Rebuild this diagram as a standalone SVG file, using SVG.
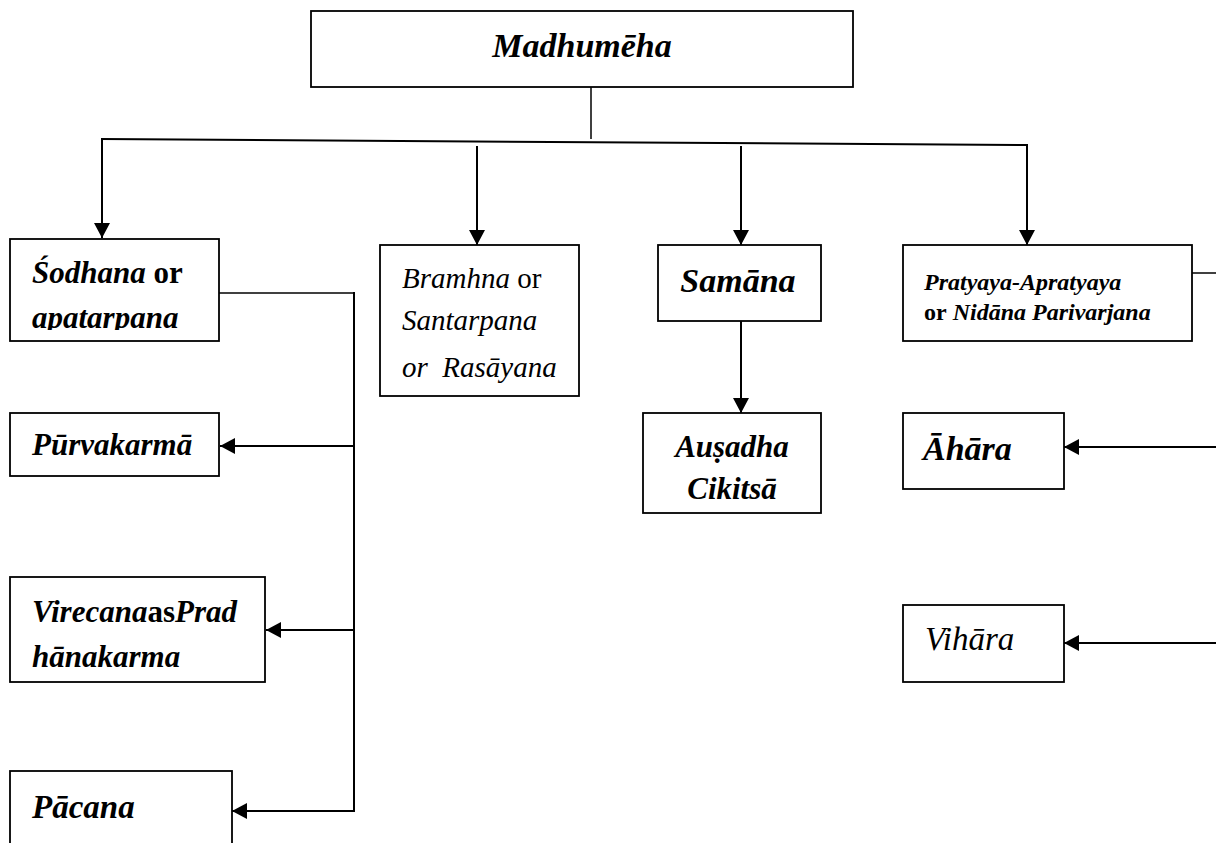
<svg xmlns="http://www.w3.org/2000/svg" width="1216" height="843" viewBox="0 0 1216 843">
<style>
.box{fill:#fff;stroke:#000;stroke-width:1.8}
.t{font-family:"Liberation Serif","Times New Roman",serif;fill:#000}
.bi{font-weight:bold;font-style:italic;font-size:31px}
.i{font-style:italic;font-size:29px}
.bu{font-weight:bold;font-style:normal}
.u{font-style:normal}
.c{stroke:#000;stroke-width:2;fill:none}
.thin{stroke:#000;stroke-width:1.5;fill:none}
</style>
<defs>
<marker id="ah" markerUnits="userSpaceOnUse" markerWidth="16" markerHeight="16" refX="15" refY="8" orient="auto">
<path d="M0,0 L15,8 L0,16 z" fill="#000"/>
</marker>
<clipPath id="clipS"><rect x="10" y="239" width="209" height="91"/></clipPath>
</defs>
<g id="connectors">
<line class="thin" x1="591" y1="87" x2="591" y2="139"/>
<line class="c" x1="101" y1="139" x2="1028" y2="145"/>
<path class="c" d="M102,139 V238" marker-end="url(#ah)"/>
<path class="c" d="M477,146 V245" marker-end="url(#ah)"/>
<path class="c" d="M741,146 V245" marker-end="url(#ah)"/>
<path class="c" d="M1027,145 V245" marker-end="url(#ah)"/>
<path class="c" d="M741,321 V413" marker-end="url(#ah)"/>
<path class="thin" d="M219,293 H354"/>
<path class="c" d="M354,292 V812"/>
<path class="c" d="M354,446 H220" marker-end="url(#ah)"/>
<path class="c" d="M354,630 H266" marker-end="url(#ah)"/>
<path class="c" d="M354,811 H232" marker-end="url(#ah)"/>
<path class="thin" d="M1192,273 H1216"/>
<path class="c" d="M1216,447 H1064" marker-end="url(#ah)"/>
<path class="c" d="M1216,643 H1064" marker-end="url(#ah)"/>
</g>
<g id="madhumeha">
<rect class="box" x="311" y="11" width="542" height="76" stroke-width="2.2"/>
<text class="t bi" x="582" y="57" text-anchor="middle" style="font-size:34px">Madhumēha</text>
</g>
<g id="sodhana">
<rect class="box" x="10" y="239" width="209" height="102"/>
<g clip-path="url(#clipS)">
<text class="t bi" x="32" y="283">Śodhana <tspan class="bu">or</tspan></text>
<text class="t bi" x="32" y="328">apatarpana</text>
</g>
</g>
<g id="purvakarma">
<rect class="box" x="10" y="413" width="209" height="63"/>
<text class="t bi" x="32" y="455">Pūrvakarmā</text>
</g>
<g id="virecana">
<rect class="box" x="10" y="577" width="255" height="105"/>
<text class="t bi" x="32" y="622">Virecana<tspan class="bu">as</tspan>Prad</text>
<text class="t bi" x="32" y="667">hānakarma</text>
</g>
<g id="pacana">
<rect class="box" x="10" y="771" width="222" height="90"/>
<text class="t bi" x="32" y="818" style="font-size:33px">Pācana</text>
</g>
<g id="bramhna">
<rect class="box" x="380" y="245" width="199" height="151"/>
<text class="t i" x="402" y="288">Bramhna <tspan class="u">or</tspan></text>
<text class="t i" x="402" y="330">Santarpana</text>
<text class="t i" x="402" y="377" xml:space="preserve">or  Rasāyana</text>
</g>
<g id="samana">
<rect class="box" x="658" y="245" width="163" height="76"/>
<text class="t bi" x="738" y="292" text-anchor="middle" style="font-size:34px">Samāna</text>
</g>
<g id="ausadha">
<rect class="box" x="643" y="413" width="178" height="100"/>
<text class="t bi" x="732" y="457" text-anchor="middle">Auṣadha</text>
<text class="t bi" x="732" y="499" text-anchor="middle">Cikitsā</text>
</g>
<g id="pratyaya">
<rect class="box" x="903" y="245" width="289" height="96"/>
<text class="t bi" x="924" y="290" style="font-size:24px">Pratyaya-Apratyaya</text>
<text class="t bi" x="924" y="320" style="font-size:24px"><tspan class="bu">or</tspan> Nidāna Parivarjana</text>
</g>
<g id="ahara">
<rect class="box" x="903" y="413" width="161" height="76"/>
<text class="t bi" x="923" y="460" style="font-size:34px">Āhāra</text>
</g>
<g id="vihara">
<rect class="box" x="903" y="605" width="161" height="77"/>
<text class="t i" x="925" y="650" style="font-size:33px">Vihāra</text>
</g>
</svg>
